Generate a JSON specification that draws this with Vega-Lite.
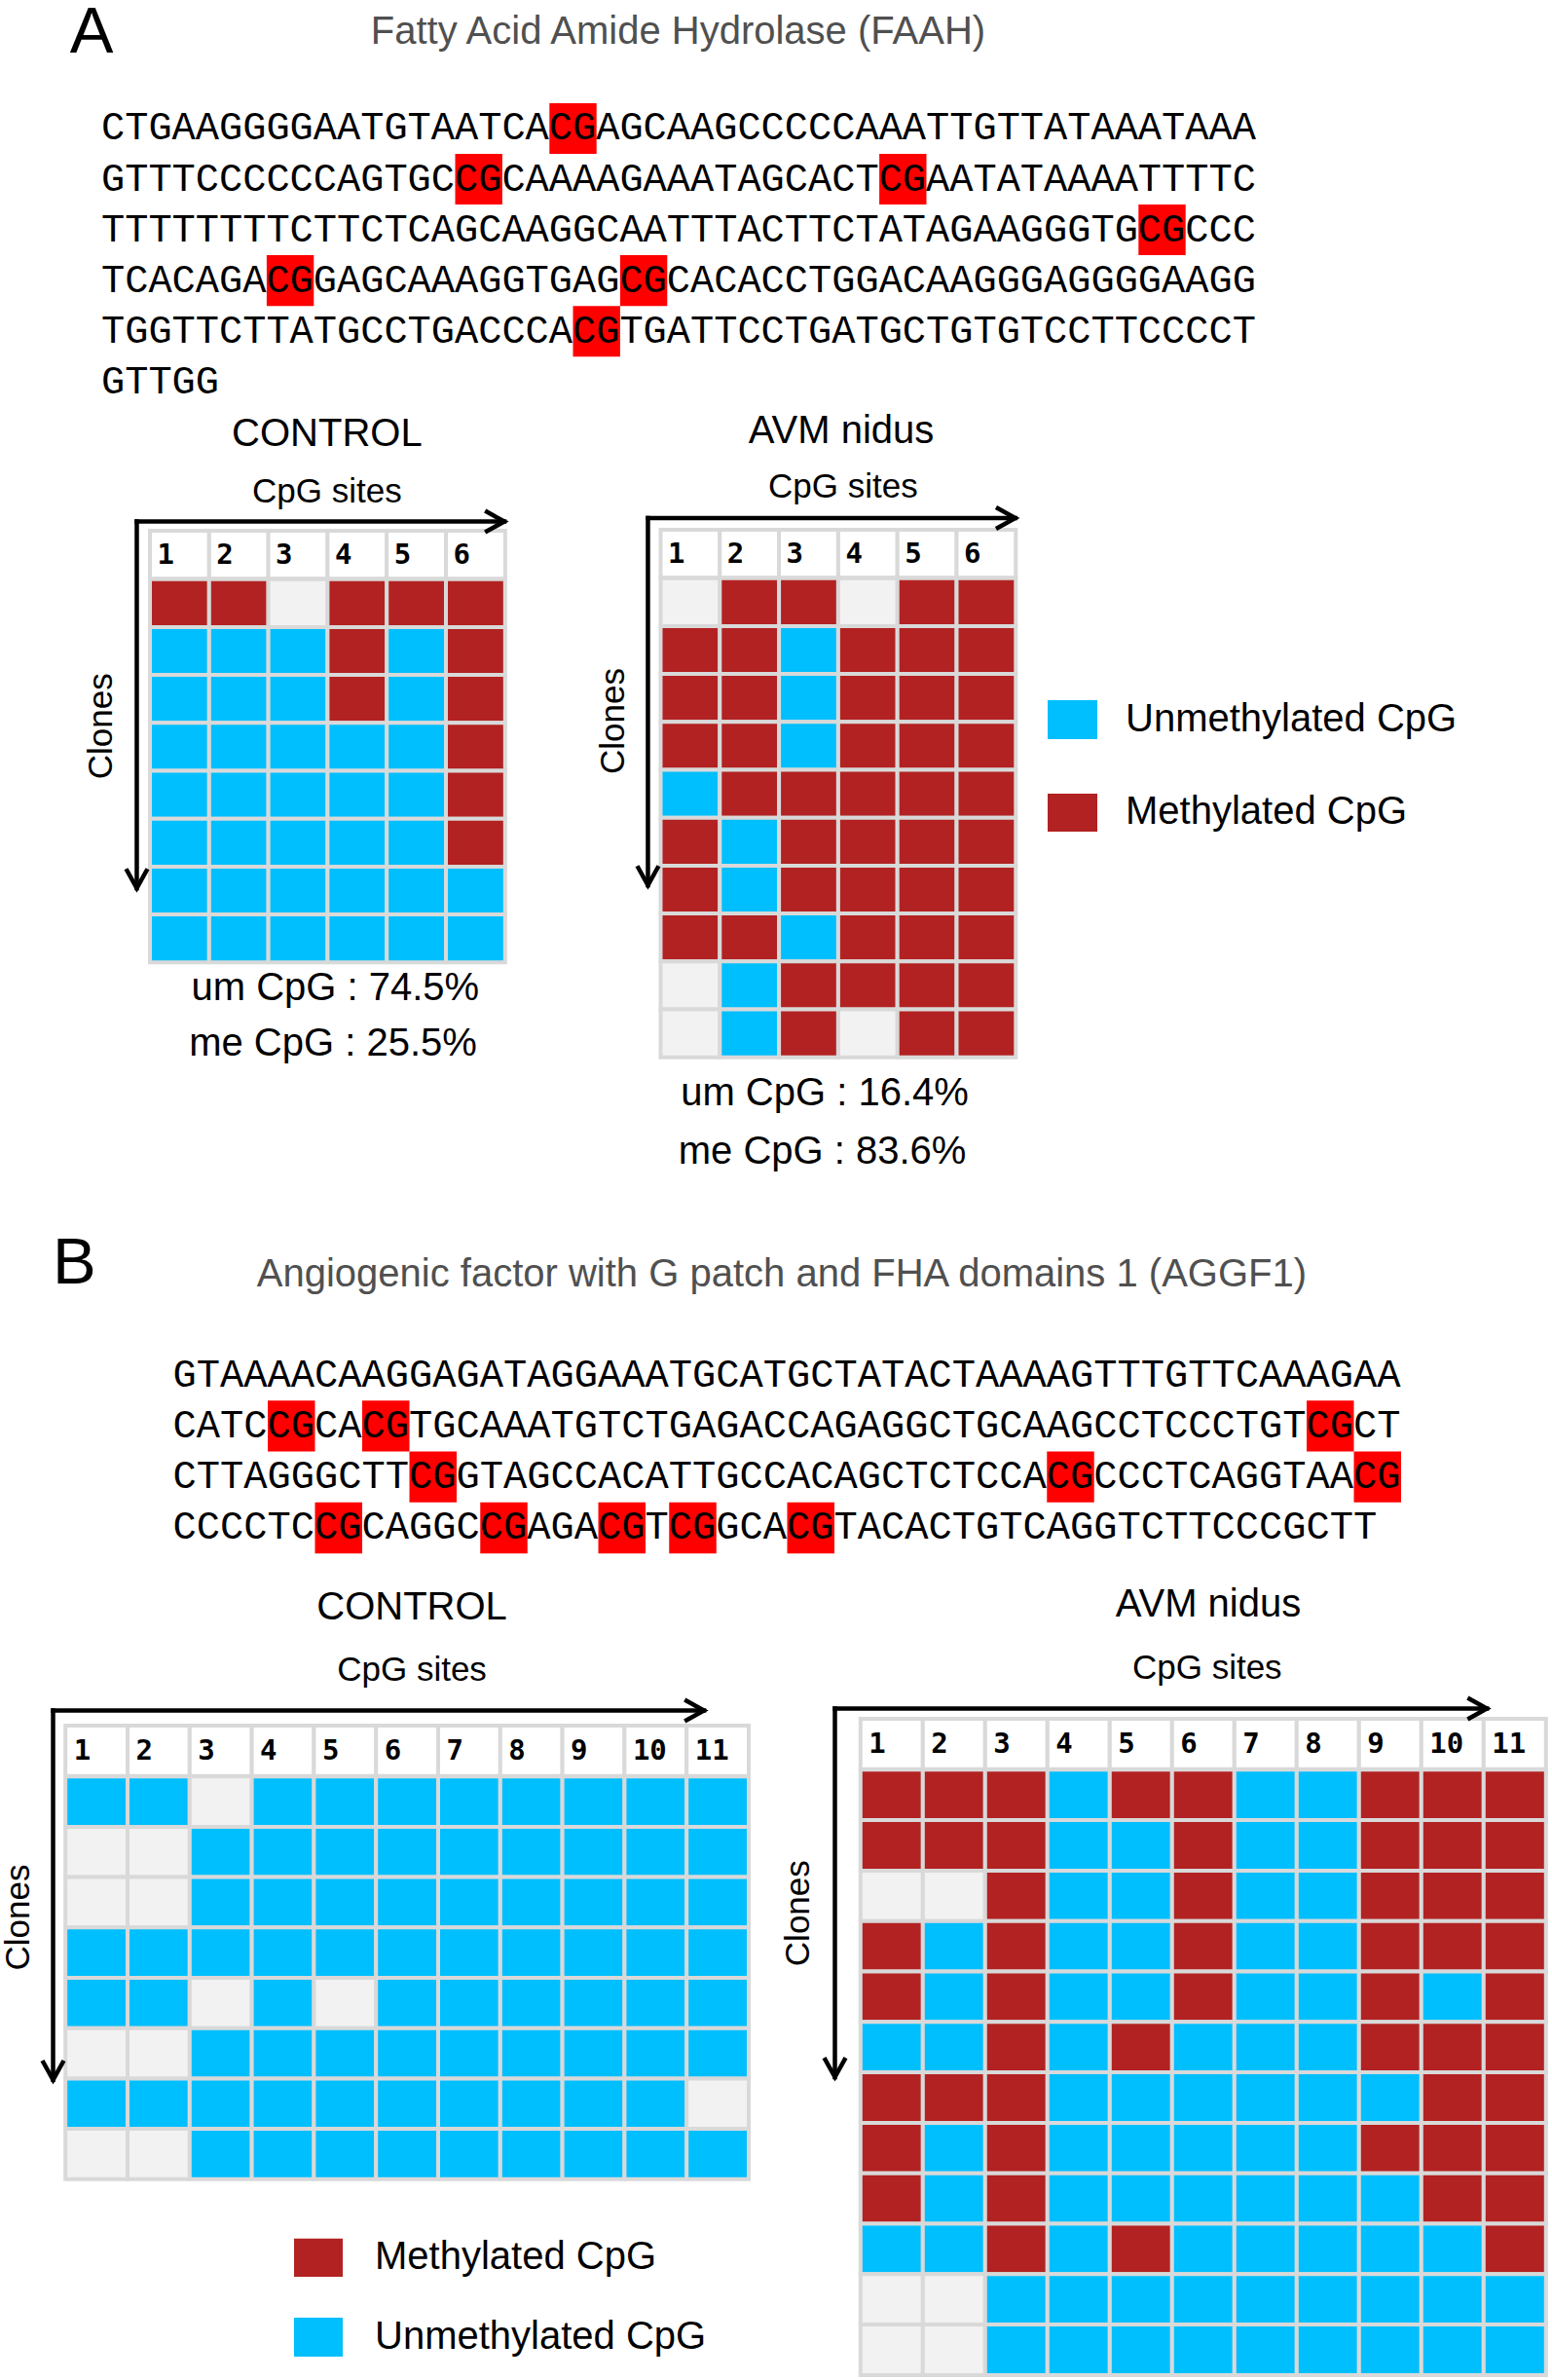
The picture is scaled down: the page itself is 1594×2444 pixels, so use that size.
{
"$schema": "https://vega.github.io/schema/vega-lite/v6.json",
"background": "white",
"padding": 0,
"spacing": 0,
"bounds": "flush",
"config": {"view": {"stroke": null}, "text": {"font": "Liberation Sans", "color": "black"}},
"datasets": {
"seqA": [
{"line":1,"seq":"CTGAAGGGGAATGTAATCACGAGCAAGCCCCCAAATTGTTATAAATAAA"},
{"line":2,"seq":"GTTTCCCCCCAGTGCCGCAAAAGAAATAGCACTCGAATATAAAATTTTC"},
{"line":3,"seq":"TTTTTTTTCTTCTCAGCAAGGCAATTTACTTCTATAGAAGGGTGCGCCC"},
{"line":4,"seq":"TCACAGACGGAGCAAAGGTGAGCGCACACCTGGACAAGGGAGGGGAAGG"},
{"line":5,"seq":"TGGTTCTTATGCCTGACCCACGTGATTCCTGATGCTGTGTCCTTCCCCT"},
{"line":6,"seq":"GTTGG"}],
"cgA": [
{"line":1,"pos":19},{"line":2,"pos":15},{"line":2,"pos":33},{"line":3,"pos":44},
{"line":4,"pos":7},{"line":4,"pos":22},{"line":5,"pos":20}],
"seqB": [
{"line":1,"seq":"GTAAAACAAGGAGATAGGAAATGCATGCTATACTAAAAGTTTGTTCAAAGAA"},
{"line":2,"seq":"CATCCGCACGTGCAAATGTCTGAGACCAGAGGCTGCAAGCCTCCCTGTCGCT"},
{"line":3,"seq":"CTTAGGGCTTCGGTAGCCACATTGCCACAGCTCTCCACGCCCTCAGGTAACG"},
{"line":4,"seq":"CCCCTCCGCAGGCCGAGACGTCGGCACGTACACTGTCAGGTCTTCCCGCTT"}],
"cgB": [
{"line":2,"pos":4},{"line":2,"pos":8},{"line":2,"pos":48},
{"line":3,"pos":10},{"line":3,"pos":37},{"line":3,"pos":50},
{"line":4,"pos":6},{"line":4,"pos":13},{"line":4,"pos":18},{"line":4,"pos":21},{"line":4,"pos":26}],
"sites6": [{"site":1},{"site":2},{"site":3},{"site":4},{"site":5},{"site":6}],
"sites11": [{"site":1},{"site":2},{"site":3},{"site":4},{"site":5},{"site":6},{"site":7},{"site":8},{"site":9},{"site":10},{"site":11}],
"ac": [
{"site":1,"clone":1,"status":"me"},{"site":2,"clone":1,"status":"me"},{"site":3,"clone":1,"status":"na"},{"site":4,"clone":1,"status":"me"},{"site":5,"clone":1,"status":"me"},{"site":6,"clone":1,"status":"me"},
{"site":1,"clone":2,"status":"um"},{"site":2,"clone":2,"status":"um"},{"site":3,"clone":2,"status":"um"},{"site":4,"clone":2,"status":"me"},{"site":5,"clone":2,"status":"um"},{"site":6,"clone":2,"status":"me"},
{"site":1,"clone":3,"status":"um"},{"site":2,"clone":3,"status":"um"},{"site":3,"clone":3,"status":"um"},{"site":4,"clone":3,"status":"me"},{"site":5,"clone":3,"status":"um"},{"site":6,"clone":3,"status":"me"},
{"site":1,"clone":4,"status":"um"},{"site":2,"clone":4,"status":"um"},{"site":3,"clone":4,"status":"um"},{"site":4,"clone":4,"status":"um"},{"site":5,"clone":4,"status":"um"},{"site":6,"clone":4,"status":"me"},
{"site":1,"clone":5,"status":"um"},{"site":2,"clone":5,"status":"um"},{"site":3,"clone":5,"status":"um"},{"site":4,"clone":5,"status":"um"},{"site":5,"clone":5,"status":"um"},{"site":6,"clone":5,"status":"me"},
{"site":1,"clone":6,"status":"um"},{"site":2,"clone":6,"status":"um"},{"site":3,"clone":6,"status":"um"},{"site":4,"clone":6,"status":"um"},{"site":5,"clone":6,"status":"um"},{"site":6,"clone":6,"status":"me"},
{"site":1,"clone":7,"status":"um"},{"site":2,"clone":7,"status":"um"},{"site":3,"clone":7,"status":"um"},{"site":4,"clone":7,"status":"um"},{"site":5,"clone":7,"status":"um"},{"site":6,"clone":7,"status":"um"},
{"site":1,"clone":8,"status":"um"},{"site":2,"clone":8,"status":"um"},{"site":3,"clone":8,"status":"um"},{"site":4,"clone":8,"status":"um"},{"site":5,"clone":8,"status":"um"},{"site":6,"clone":8,"status":"um"}],
"aa": [
{"site":1,"clone":1,"status":"na"},{"site":2,"clone":1,"status":"me"},{"site":3,"clone":1,"status":"me"},{"site":4,"clone":1,"status":"na"},{"site":5,"clone":1,"status":"me"},{"site":6,"clone":1,"status":"me"},
{"site":1,"clone":2,"status":"me"},{"site":2,"clone":2,"status":"me"},{"site":3,"clone":2,"status":"um"},{"site":4,"clone":2,"status":"me"},{"site":5,"clone":2,"status":"me"},{"site":6,"clone":2,"status":"me"},
{"site":1,"clone":3,"status":"me"},{"site":2,"clone":3,"status":"me"},{"site":3,"clone":3,"status":"um"},{"site":4,"clone":3,"status":"me"},{"site":5,"clone":3,"status":"me"},{"site":6,"clone":3,"status":"me"},
{"site":1,"clone":4,"status":"me"},{"site":2,"clone":4,"status":"me"},{"site":3,"clone":4,"status":"um"},{"site":4,"clone":4,"status":"me"},{"site":5,"clone":4,"status":"me"},{"site":6,"clone":4,"status":"me"},
{"site":1,"clone":5,"status":"um"},{"site":2,"clone":5,"status":"me"},{"site":3,"clone":5,"status":"me"},{"site":4,"clone":5,"status":"me"},{"site":5,"clone":5,"status":"me"},{"site":6,"clone":5,"status":"me"},
{"site":1,"clone":6,"status":"me"},{"site":2,"clone":6,"status":"um"},{"site":3,"clone":6,"status":"me"},{"site":4,"clone":6,"status":"me"},{"site":5,"clone":6,"status":"me"},{"site":6,"clone":6,"status":"me"},
{"site":1,"clone":7,"status":"me"},{"site":2,"clone":7,"status":"um"},{"site":3,"clone":7,"status":"me"},{"site":4,"clone":7,"status":"me"},{"site":5,"clone":7,"status":"me"},{"site":6,"clone":7,"status":"me"},
{"site":1,"clone":8,"status":"me"},{"site":2,"clone":8,"status":"me"},{"site":3,"clone":8,"status":"um"},{"site":4,"clone":8,"status":"me"},{"site":5,"clone":8,"status":"me"},{"site":6,"clone":8,"status":"me"},
{"site":1,"clone":9,"status":"na"},{"site":2,"clone":9,"status":"um"},{"site":3,"clone":9,"status":"me"},{"site":4,"clone":9,"status":"me"},{"site":5,"clone":9,"status":"me"},{"site":6,"clone":9,"status":"me"},
{"site":1,"clone":10,"status":"na"},{"site":2,"clone":10,"status":"um"},{"site":3,"clone":10,"status":"me"},{"site":4,"clone":10,"status":"na"},{"site":5,"clone":10,"status":"me"},{"site":6,"clone":10,"status":"me"}],
"bc": [
{"site":1,"clone":1,"status":"um"},{"site":2,"clone":1,"status":"um"},{"site":3,"clone":1,"status":"na"},{"site":4,"clone":1,"status":"um"},{"site":5,"clone":1,"status":"um"},{"site":6,"clone":1,"status":"um"},{"site":7,"clone":1,"status":"um"},{"site":8,"clone":1,"status":"um"},{"site":9,"clone":1,"status":"um"},{"site":10,"clone":1,"status":"um"},{"site":11,"clone":1,"status":"um"},
{"site":1,"clone":2,"status":"na"},{"site":2,"clone":2,"status":"na"},{"site":3,"clone":2,"status":"um"},{"site":4,"clone":2,"status":"um"},{"site":5,"clone":2,"status":"um"},{"site":6,"clone":2,"status":"um"},{"site":7,"clone":2,"status":"um"},{"site":8,"clone":2,"status":"um"},{"site":9,"clone":2,"status":"um"},{"site":10,"clone":2,"status":"um"},{"site":11,"clone":2,"status":"um"},
{"site":1,"clone":3,"status":"na"},{"site":2,"clone":3,"status":"na"},{"site":3,"clone":3,"status":"um"},{"site":4,"clone":3,"status":"um"},{"site":5,"clone":3,"status":"um"},{"site":6,"clone":3,"status":"um"},{"site":7,"clone":3,"status":"um"},{"site":8,"clone":3,"status":"um"},{"site":9,"clone":3,"status":"um"},{"site":10,"clone":3,"status":"um"},{"site":11,"clone":3,"status":"um"},
{"site":1,"clone":4,"status":"um"},{"site":2,"clone":4,"status":"um"},{"site":3,"clone":4,"status":"um"},{"site":4,"clone":4,"status":"um"},{"site":5,"clone":4,"status":"um"},{"site":6,"clone":4,"status":"um"},{"site":7,"clone":4,"status":"um"},{"site":8,"clone":4,"status":"um"},{"site":9,"clone":4,"status":"um"},{"site":10,"clone":4,"status":"um"},{"site":11,"clone":4,"status":"um"},
{"site":1,"clone":5,"status":"um"},{"site":2,"clone":5,"status":"um"},{"site":3,"clone":5,"status":"na"},{"site":4,"clone":5,"status":"um"},{"site":5,"clone":5,"status":"na"},{"site":6,"clone":5,"status":"um"},{"site":7,"clone":5,"status":"um"},{"site":8,"clone":5,"status":"um"},{"site":9,"clone":5,"status":"um"},{"site":10,"clone":5,"status":"um"},{"site":11,"clone":5,"status":"um"},
{"site":1,"clone":6,"status":"na"},{"site":2,"clone":6,"status":"na"},{"site":3,"clone":6,"status":"um"},{"site":4,"clone":6,"status":"um"},{"site":5,"clone":6,"status":"um"},{"site":6,"clone":6,"status":"um"},{"site":7,"clone":6,"status":"um"},{"site":8,"clone":6,"status":"um"},{"site":9,"clone":6,"status":"um"},{"site":10,"clone":6,"status":"um"},{"site":11,"clone":6,"status":"um"},
{"site":1,"clone":7,"status":"um"},{"site":2,"clone":7,"status":"um"},{"site":3,"clone":7,"status":"um"},{"site":4,"clone":7,"status":"um"},{"site":5,"clone":7,"status":"um"},{"site":6,"clone":7,"status":"um"},{"site":7,"clone":7,"status":"um"},{"site":8,"clone":7,"status":"um"},{"site":9,"clone":7,"status":"um"},{"site":10,"clone":7,"status":"um"},{"site":11,"clone":7,"status":"na"},
{"site":1,"clone":8,"status":"na"},{"site":2,"clone":8,"status":"na"},{"site":3,"clone":8,"status":"um"},{"site":4,"clone":8,"status":"um"},{"site":5,"clone":8,"status":"um"},{"site":6,"clone":8,"status":"um"},{"site":7,"clone":8,"status":"um"},{"site":8,"clone":8,"status":"um"},{"site":9,"clone":8,"status":"um"},{"site":10,"clone":8,"status":"um"},{"site":11,"clone":8,"status":"um"}],
"ba": [
{"site":1,"clone":1,"status":"me"},{"site":2,"clone":1,"status":"me"},{"site":3,"clone":1,"status":"me"},{"site":4,"clone":1,"status":"um"},{"site":5,"clone":1,"status":"me"},{"site":6,"clone":1,"status":"me"},{"site":7,"clone":1,"status":"um"},{"site":8,"clone":1,"status":"um"},{"site":9,"clone":1,"status":"me"},{"site":10,"clone":1,"status":"me"},{"site":11,"clone":1,"status":"me"},
{"site":1,"clone":2,"status":"me"},{"site":2,"clone":2,"status":"me"},{"site":3,"clone":2,"status":"me"},{"site":4,"clone":2,"status":"um"},{"site":5,"clone":2,"status":"um"},{"site":6,"clone":2,"status":"me"},{"site":7,"clone":2,"status":"um"},{"site":8,"clone":2,"status":"um"},{"site":9,"clone":2,"status":"me"},{"site":10,"clone":2,"status":"me"},{"site":11,"clone":2,"status":"me"},
{"site":1,"clone":3,"status":"na"},{"site":2,"clone":3,"status":"na"},{"site":3,"clone":3,"status":"me"},{"site":4,"clone":3,"status":"um"},{"site":5,"clone":3,"status":"um"},{"site":6,"clone":3,"status":"me"},{"site":7,"clone":3,"status":"um"},{"site":8,"clone":3,"status":"um"},{"site":9,"clone":3,"status":"me"},{"site":10,"clone":3,"status":"me"},{"site":11,"clone":3,"status":"me"},
{"site":1,"clone":4,"status":"me"},{"site":2,"clone":4,"status":"um"},{"site":3,"clone":4,"status":"me"},{"site":4,"clone":4,"status":"um"},{"site":5,"clone":4,"status":"um"},{"site":6,"clone":4,"status":"me"},{"site":7,"clone":4,"status":"um"},{"site":8,"clone":4,"status":"um"},{"site":9,"clone":4,"status":"me"},{"site":10,"clone":4,"status":"me"},{"site":11,"clone":4,"status":"me"},
{"site":1,"clone":5,"status":"me"},{"site":2,"clone":5,"status":"um"},{"site":3,"clone":5,"status":"me"},{"site":4,"clone":5,"status":"um"},{"site":5,"clone":5,"status":"um"},{"site":6,"clone":5,"status":"me"},{"site":7,"clone":5,"status":"um"},{"site":8,"clone":5,"status":"um"},{"site":9,"clone":5,"status":"me"},{"site":10,"clone":5,"status":"um"},{"site":11,"clone":5,"status":"me"},
{"site":1,"clone":6,"status":"um"},{"site":2,"clone":6,"status":"um"},{"site":3,"clone":6,"status":"me"},{"site":4,"clone":6,"status":"um"},{"site":5,"clone":6,"status":"me"},{"site":6,"clone":6,"status":"um"},{"site":7,"clone":6,"status":"um"},{"site":8,"clone":6,"status":"um"},{"site":9,"clone":6,"status":"me"},{"site":10,"clone":6,"status":"me"},{"site":11,"clone":6,"status":"me"},
{"site":1,"clone":7,"status":"me"},{"site":2,"clone":7,"status":"me"},{"site":3,"clone":7,"status":"me"},{"site":4,"clone":7,"status":"um"},{"site":5,"clone":7,"status":"um"},{"site":6,"clone":7,"status":"um"},{"site":7,"clone":7,"status":"um"},{"site":8,"clone":7,"status":"um"},{"site":9,"clone":7,"status":"um"},{"site":10,"clone":7,"status":"me"},{"site":11,"clone":7,"status":"me"},
{"site":1,"clone":8,"status":"me"},{"site":2,"clone":8,"status":"um"},{"site":3,"clone":8,"status":"me"},{"site":4,"clone":8,"status":"um"},{"site":5,"clone":8,"status":"um"},{"site":6,"clone":8,"status":"um"},{"site":7,"clone":8,"status":"um"},{"site":8,"clone":8,"status":"um"},{"site":9,"clone":8,"status":"me"},{"site":10,"clone":8,"status":"me"},{"site":11,"clone":8,"status":"me"},
{"site":1,"clone":9,"status":"me"},{"site":2,"clone":9,"status":"um"},{"site":3,"clone":9,"status":"me"},{"site":4,"clone":9,"status":"um"},{"site":5,"clone":9,"status":"um"},{"site":6,"clone":9,"status":"um"},{"site":7,"clone":9,"status":"um"},{"site":8,"clone":9,"status":"um"},{"site":9,"clone":9,"status":"um"},{"site":10,"clone":9,"status":"me"},{"site":11,"clone":9,"status":"me"},
{"site":1,"clone":10,"status":"um"},{"site":2,"clone":10,"status":"um"},{"site":3,"clone":10,"status":"me"},{"site":4,"clone":10,"status":"um"},{"site":5,"clone":10,"status":"me"},{"site":6,"clone":10,"status":"um"},{"site":7,"clone":10,"status":"um"},{"site":8,"clone":10,"status":"um"},{"site":9,"clone":10,"status":"um"},{"site":10,"clone":10,"status":"um"},{"site":11,"clone":10,"status":"me"},
{"site":1,"clone":11,"status":"na"},{"site":2,"clone":11,"status":"na"},{"site":3,"clone":11,"status":"um"},{"site":4,"clone":11,"status":"um"},{"site":5,"clone":11,"status":"um"},{"site":6,"clone":11,"status":"um"},{"site":7,"clone":11,"status":"um"},{"site":8,"clone":11,"status":"um"},{"site":9,"clone":11,"status":"um"},{"site":10,"clone":11,"status":"um"},{"site":11,"clone":11,"status":"um"},
{"site":1,"clone":12,"status":"na"},{"site":2,"clone":12,"status":"na"},{"site":3,"clone":12,"status":"um"},{"site":4,"clone":12,"status":"um"},{"site":5,"clone":12,"status":"um"},{"site":6,"clone":12,"status":"um"},{"site":7,"clone":12,"status":"um"},{"site":8,"clone":12,"status":"um"},{"site":9,"clone":12,"status":"um"},{"site":10,"clone":12,"status":"um"},{"site":11,"clone":12,"status":"um"}]
},
"vconcat": [
{
"width": 1594, "height": 430,
"layer": [
{"data": {"name": "cgA"}, "mark": {"type": "rect", "fill": "#FF0000"},
 "encoding": {
  "x": {"field": "pos", "type": "quantitative", "bin": {"binned": true, "step": 2}, "scale": {"domain": [-4.2975, 61.57], "nice": false, "zero": false}, "axis": null},
  "y": {"field": "line", "type": "quantitative", "bin": {"binned": true, "step": 1}, "scale": {"domain": [-1.0269, 7.236], "nice": false, "zero": false, "reverse": true}, "axis": null}}},
{"data": {"name": "seqA"}, "mark": {"type": "text", "align": "left", "baseline": "middle", "dy": 26.02, "font": "Liberation Mono", "fontSize": 40.33, "color": "black"},
 "encoding": {"x": {"datum": 0}, "y": {"field": "line", "type": "quantitative"}, "text": {"field": "seq"}}},
{"data": {"values": [{}]}, "mark": {"type": "text", "text": "A", "fontSize": 67, "align": "center", "baseline": "alphabetic"},
 "encoding": {"x": {"datum": -0.413}, "y": {"datum": 0.0108}}},
{"data": {"values": [{}]}, "mark": {"type": "text", "text": "Fatty Acid Amide Hydrolase (FAAH)", "fontSize": 40, "color": "#505050", "align": "center", "baseline": "middle"},
 "encoding": {"x": {"datum": 24.48}, "y": {"datum": -0.3928}}}
]
},
{
"width": 1594, "height": 800,
"resolve": {"scale": {"x": "independent", "y": "independent"}},
"layer": [
{"layer": [
{"data": {"name": "sites6"}, "mark": {"type": "rect", "fill": "white", "stroke": "#d9d9d9", "strokeWidth": 4},
 "encoding": {
  "x": {"field": "site", "type": "quantitative", "bin": {"binned": true, "step": 1}, "scale": {"domain": [-1.5247, 24.6924], "nice": false, "zero": false}, "axis": null},
  "y": {"datum": 0, "type": "quantitative", "scale": {"domain": [-2.3374, 13.9228], "nice": false, "zero": false, "reverse": true}, "axis": null},
  "y2": {"datum": 1}}},
{"data": {"name": "ac"}, "mark": {"type": "rect", "stroke": "#d9d9d9", "strokeWidth": 4},
 "encoding": {
  "x": {"field": "site", "type": "quantitative", "bin": {"binned": true, "step": 1}},
  "y": {"field": "clone", "type": "quantitative", "bin": {"binned": true, "step": 1}},
  "fill": {"field": "status", "type": "nominal", "scale": {"domain": ["me", "um", "na"], "range": ["#B22222", "#00BFFF", "#F2F2F2"]}, "legend": null}}},
{"data": {"name": "sites6"}, "mark": {"type": "text", "align": "left", "baseline": "middle", "dx": 8, "font": "DejaVu Sans Mono", "fontWeight": "bold", "fontSize": 29},
 "encoding": {"x": {"field": "site", "type": "quantitative"}, "y": {"datum": 0.5}, "text": {"field": "site"}}},
{"data": {"values": [{}]}, "mark": {"type": "text", "text": "CONTROL", "fontSize": 40, "align": "center", "baseline": "middle"},
 "encoding": {"x": {"datum": 4.0}, "y": {"datum": -2.022}}},
{"data": {"values": [{}]}, "mark": {"type": "text", "text": "CpG sites", "fontSize": 35, "align": "center", "baseline": "middle"},
 "encoding": {"x": {"datum": 4.0}, "y": {"datum": -0.81}}},
{"data": {"values": [{}]}, "mark": {"type": "text", "text": "Clones", "fontSize": 35, "align": "center", "baseline": "middle", "angle": 270},
 "encoding": {"x": {"datum": 0.178}, "y": {"datum": 4.08}}},
{"data": {"values": [{}]}, "mark": {"type": "text", "text": "um CpG : 74.5%", "fontSize": 40, "align": "center", "baseline": "middle"},
 "encoding": {"x": {"datum": 4.138}, "y": {"datum": 9.553}}},
{"data": {"values": [{}]}, "mark": {"type": "text", "text": "me CpG : 25.5%", "fontSize": 40, "align": "center", "baseline": "middle"},
 "encoding": {"x": {"datum": 4.1}, "y": {"datum": 10.71}}},
{"data": {"values": [{}]}, "mark": {"type": "rule", "strokeWidth": 4.5, "color": "black", "strokeCap": "square"},
 "encoding": {"x": {"datum": 0.786}, "x2": {"datum": 6.995}, "y": {"datum": -0.193}}},
{"data": {"values": [{}]}, "mark": {"type": "rule", "strokeWidth": 4.5, "color": "black", "strokeCap": "square"},
 "encoding": {"x": {"datum": 0.786}, "y": {"datum": -0.193}, "y2": {"datum": 7.46}}},
{"data": {"values": [{}]}, "mark": {"type": "point", "shape": "M-1.8,-1L0,0L-1.8,1", "filled": false, "size": 484, "strokeWidth": 4.5, "color": "black", "opacity": 1},
 "encoding": {"x": {"datum": 6.995}, "y": {"datum": -0.193}}},
{"data": {"values": [{}]}, "mark": {"type": "point", "shape": "M-1,-1.8L0,0L1,-1.8", "filled": false, "size": 484, "strokeWidth": 4.5, "color": "black", "opacity": 1},
 "encoding": {"x": {"datum": 0.786}, "y": {"datum": 7.46}}}
]},
{"layer": [
{"data": {"name": "sites6"}, "mark": {"type": "rect", "fill": "white", "stroke": "#d9d9d9", "strokeWidth": 4},
 "encoding": {
  "x": {"field": "site", "type": "quantitative", "bin": {"binned": true, "step": 1}, "scale": {"domain": [-10.1513, 16.0658], "nice": false, "zero": false}, "axis": null},
  "y": {"datum": 0, "type": "quantitative", "scale": {"domain": [-2.3171, 13.9431], "nice": false, "zero": false, "reverse": true}, "axis": null},
  "y2": {"datum": 1}}},
{"data": {"name": "aa"}, "mark": {"type": "rect", "stroke": "#d9d9d9", "strokeWidth": 4},
 "encoding": {
  "x": {"field": "site", "type": "quantitative", "bin": {"binned": true, "step": 1}},
  "y": {"field": "clone", "type": "quantitative", "bin": {"binned": true, "step": 1}},
  "fill": {"field": "status", "type": "nominal", "scale": {"domain": ["me", "um", "na"], "range": ["#B22222", "#00BFFF", "#F2F2F2"]}, "legend": null}}},
{"data": {"name": "sites6"}, "mark": {"type": "text", "align": "left", "baseline": "middle", "dx": 8, "font": "DejaVu Sans Mono", "fontWeight": "bold", "fontSize": 29},
 "encoding": {"x": {"field": "site", "type": "quantitative"}, "y": {"datum": 0.5}, "text": {"field": "site"}}},
{"data": {"values": [{}]}, "mark": {"type": "text", "text": "AVM nidus", "fontSize": 40, "align": "center", "baseline": "middle"},
 "encoding": {"x": {"datum": 4.06}, "y": {"datum": -2.063}}},
{"data": {"values": [{}]}, "mark": {"type": "text", "text": "CpG sites", "fontSize": 35, "align": "center", "baseline": "middle"},
 "encoding": {"x": {"datum": 4.09}, "y": {"datum": -0.894}}},
{"data": {"values": [{}]}, "mark": {"type": "text", "text": "Clones", "fontSize": 35, "align": "center", "baseline": "middle", "angle": 270},
 "encoding": {"x": {"datum": 0.211}, "y": {"datum": 3.994}}},
{"data": {"values": [{}]}, "mark": {"type": "text", "text": "um CpG : 16.4%", "fontSize": 40, "align": "center", "baseline": "middle"},
 "encoding": {"x": {"datum": 3.78}, "y": {"datum": 11.77}}},
{"data": {"values": [{}]}, "mark": {"type": "text", "text": "me CpG : 83.6%", "fontSize": 40, "align": "center", "baseline": "middle"},
 "encoding": {"x": {"datum": 3.74}, "y": {"datum": 12.98}}},
{"data": {"values": [{}]}, "mark": {"type": "rule", "strokeWidth": 4.5, "color": "black", "strokeCap": "square"},
 "encoding": {"x": {"datum": 0.794}, "x2": {"datum": 7.0}, "y": {"datum": -0.244}}},
{"data": {"values": [{}]}, "mark": {"type": "rule", "strokeWidth": 4.5, "color": "black", "strokeCap": "square"},
 "encoding": {"x": {"datum": 0.794}, "y": {"datum": -0.244}, "y2": {"datum": 7.42}}},
{"data": {"values": [{}]}, "mark": {"type": "point", "shape": "M-1.8,-1L0,0L-1.8,1", "filled": false, "size": 484, "strokeWidth": 4.5, "color": "black", "opacity": 1},
 "encoding": {"x": {"datum": 7.0}, "y": {"datum": -0.244}}},
{"data": {"values": [{}]}, "mark": {"type": "point", "shape": "M-1,-1.8L0,0L1,-1.8", "filled": false, "size": 484, "strokeWidth": 4.5, "color": "black", "opacity": 1},
 "encoding": {"x": {"datum": 0.794}, "y": {"datum": 7.42}}},
{"data": {"values": [{}]}, "mark": {"type": "rect"},
 "encoding": {"x": {"datum": 7.546}, "x2": {"datum": 8.385}, "y": {"datum": 3.557}, "y2": {"datum": 4.37}, "fill": {"datum": "um", "type": "nominal", "legend": null}}},
{"data": {"values": [{}]}, "mark": {"type": "rect"},
 "encoding": {"x": {"datum": 7.546}, "x2": {"datum": 8.385}, "y": {"datum": 5.508}, "y2": {"datum": 6.301}, "fill": {"datum": "me", "type": "nominal", "legend": null}}},
{"data": {"values": [{}]}, "mark": {"type": "text", "text": "Unmethylated CpG", "fontSize": 40, "align": "left", "baseline": "middle"},
 "encoding": {"x": {"datum": 8.862}, "y": {"datum": 3.963}}},
{"data": {"values": [{}]}, "mark": {"type": "text", "text": "Methylated CpG", "fontSize": 40, "align": "left", "baseline": "middle"},
 "encoding": {"x": {"datum": 8.862}, "y": {"datum": 5.904}}}
]}
]
},
{
"width": 1594, "height": 390,
"layer": [
{"data": {"name": "cgB"}, "mark": {"type": "rect", "fill": "#FF0000"},
 "encoding": {
  "x": {"field": "pos", "type": "quantitative", "bin": {"binned": true, "step": 2}, "scale": {"domain": [-7.3196, 58.412], "nice": false, "zero": false}, "axis": null},
  "y": {"field": "line", "type": "quantitative", "bin": {"binned": true, "step": 1}, "scale": {"domain": [-1.9683, 5.4844], "nice": false, "zero": false, "reverse": true}, "axis": null}}},
{"data": {"name": "seqB"}, "mark": {"type": "text", "align": "left", "baseline": "middle", "dy": 26.17, "font": "Liberation Mono", "fontSize": 40.42, "color": "black"},
 "encoding": {"x": {"datum": 0}, "y": {"field": "line", "type": "quantitative"}, "text": {"field": "seq"}}},
{"data": {"values": [{}]}, "mark": {"type": "text", "text": "B", "fontSize": 67, "align": "center", "baseline": "middle"},
 "encoding": {"x": {"datum": -4.173}, "y": {"datum": -0.6784}}},
{"data": {"values": [{}]}, "mark": {"type": "text", "text": "Angiogenic factor with G patch and FHA domains 1 (AGGF1)", "fontSize": 40, "color": "#505050", "align": "center", "baseline": "middle"},
 "encoding": {"x": {"datum": 25.79}, "y": {"datum": -0.4586}}}
]
},
{
"width": 1594, "height": 824,
"resolve": {"scale": {"x": "independent", "y": "independent"}},
"layer": [
{"layer": [
{"data": {"name": "sites11"}, "mark": {"type": "rect", "fill": "white", "stroke": "#d9d9d9", "strokeWidth": 4},
 "encoding": {
  "x": {"field": "site", "type": "quantitative", "bin": {"binned": true, "step": 1}, "scale": {"domain": [-0.0455, 24.9389], "nice": false, "zero": false}, "axis": null},
  "y": {"datum": 0, "type": "quantitative", "scale": {"domain": [-2.94, 12.998], "nice": false, "zero": false, "reverse": true}, "axis": null},
  "y2": {"datum": 1}}},
{"data": {"name": "bc"}, "mark": {"type": "rect", "stroke": "#d9d9d9", "strokeWidth": 4},
 "encoding": {
  "x": {"field": "site", "type": "quantitative", "bin": {"binned": true, "step": 1}},
  "y": {"field": "clone", "type": "quantitative", "bin": {"binned": true, "step": 1}},
  "fill": {"field": "status", "type": "nominal", "scale": {"domain": ["me", "um", "na"], "range": ["#B22222", "#00BFFF", "#F2F2F2"]}, "legend": null}}},
{"data": {"name": "sites11"}, "mark": {"type": "text", "align": "left", "baseline": "middle", "dx": 9, "font": "DejaVu Sans Mono", "fontWeight": "bold", "fontSize": 29},
 "encoding": {"x": {"field": "site", "type": "quantitative"}, "y": {"datum": 0.5}, "text": {"field": "site"}}},
{"data": {"values": [{}]}, "mark": {"type": "text", "text": "CONTROL", "fontSize": 40, "align": "center", "baseline": "middle"},
 "encoding": {"x": {"datum": 6.585}, "y": {"datum": -2.35}}},
{"data": {"values": [{}]}, "mark": {"type": "text", "text": "CpG sites", "fontSize": 35, "align": "center", "baseline": "middle"},
 "encoding": {"x": {"datum": 6.585}, "y": {"datum": -1.1}}},
{"data": {"values": [{}]}, "mark": {"type": "text", "text": "Clones", "fontSize": 35, "align": "center", "baseline": "middle", "angle": 270},
 "encoding": {"x": {"datum": 0.2524}, "y": {"datum": 3.81}}},
{"data": {"values": [{}]}, "mark": {"type": "rule", "strokeWidth": 4.5, "color": "black", "strokeCap": "square"},
 "encoding": {"x": {"datum": 0.809}, "x2": {"datum": 11.287}, "y": {"datum": -0.3}}},
{"data": {"values": [{}]}, "mark": {"type": "rule", "strokeWidth": 4.5, "color": "black", "strokeCap": "square"},
 "encoding": {"x": {"datum": 0.809}, "y": {"datum": -0.3}, "y2": {"datum": 7.037}}},
{"data": {"values": [{}]}, "mark": {"type": "point", "shape": "M-1.8,-1L0,0L-1.8,1", "filled": false, "size": 484, "strokeWidth": 4.5, "color": "black", "opacity": 1},
 "encoding": {"x": {"datum": 11.287}, "y": {"datum": -0.3}}},
{"data": {"values": [{}]}, "mark": {"type": "point", "shape": "M-1,-1.8L0,0L1,-1.8", "filled": false, "size": 484, "strokeWidth": 4.5, "color": "black", "opacity": 1},
 "encoding": {"x": {"datum": 0.809}, "y": {"datum": 7.037}}},
{"data": {"values": [{}]}, "mark": {"type": "rect"},
 "encoding": {"x": {"datum": 4.688}, "x2": {"datum": 5.472}, "y": {"datum": 10.19}, "y2": {"datum": 10.948}, "fill": {"datum": "me", "type": "nominal", "legend": null}}},
{"data": {"values": [{}]}, "mark": {"type": "rect"},
 "encoding": {"x": {"datum": 4.688}, "x2": {"datum": 5.472}, "y": {"datum": 11.76}, "y2": {"datum": 12.534}, "fill": {"datum": "um", "type": "nominal", "legend": null}}},
{"data": {"values": [{}]}, "mark": {"type": "text", "text": "Methylated CpG", "fontSize": 40, "align": "left", "baseline": "middle"},
 "encoding": {"x": {"datum": 5.989}, "y": {"datum": 10.57}}},
{"data": {"values": [{}]}, "mark": {"type": "text", "text": "Unmethylated CpG", "fontSize": 40, "align": "left", "baseline": "middle"},
 "encoding": {"x": {"datum": 5.989}, "y": {"datum": 12.147}}}
]},
{"layer": [
{"data": {"name": "sites11"}, "mark": {"type": "rect", "fill": "white", "stroke": "#d9d9d9", "strokeWidth": 4},
 "encoding": {
  "x": {"field": "site", "type": "quantitative", "bin": {"binned": true, "step": 1}, "scale": {"domain": [-12.8016, 12.1047], "nice": false, "zero": false}, "axis": null},
  "y": {"datum": 0, "type": "quantitative", "scale": {"domain": [-2.7992, 13.108], "nice": false, "zero": false, "reverse": true}, "axis": null},
  "y2": {"datum": 1}}},
{"data": {"name": "ba"}, "mark": {"type": "rect", "stroke": "#d9d9d9", "strokeWidth": 4},
 "encoding": {
  "x": {"field": "site", "type": "quantitative", "bin": {"binned": true, "step": 1}},
  "y": {"field": "clone", "type": "quantitative", "bin": {"binned": true, "step": 1}},
  "fill": {"field": "status", "type": "nominal", "scale": {"domain": ["me", "um", "na"], "range": ["#B22222", "#00BFFF", "#F2F2F2"]}, "legend": null}}},
{"data": {"name": "sites11"}, "mark": {"type": "text", "align": "left", "baseline": "middle", "dx": 9, "font": "DejaVu Sans Mono", "fontWeight": "bold", "fontSize": 29},
 "encoding": {"x": {"field": "site", "type": "quantitative"}, "y": {"datum": 0.5}, "text": {"field": "site"}}},
{"data": {"values": [{}]}, "mark": {"type": "text", "text": "AVM nidus", "fontSize": 40, "align": "center", "baseline": "middle"},
 "encoding": {"x": {"datum": 6.589}, "y": {"datum": -2.264}}},
{"data": {"values": [{}]}, "mark": {"type": "text", "text": "CpG sites", "fontSize": 35, "align": "center", "baseline": "middle"},
 "encoding": {"x": {"datum": 6.57}, "y": {"datum": -1.004}}},
{"data": {"values": [{}]}, "mark": {"type": "text", "text": "Clones", "fontSize": 35, "align": "center", "baseline": "middle", "angle": 270},
 "encoding": {"x": {"datum": 0.0047}, "y": {"datum": 3.855}}},
{"data": {"values": [{}]}, "mark": {"type": "rule", "strokeWidth": 4.5, "color": "black", "strokeCap": "square"},
 "encoding": {"x": {"datum": 0.597}, "x2": {"datum": 11.06}, "y": {"datum": -0.203}}},
{"data": {"values": [{}]}, "mark": {"type": "rule", "strokeWidth": 4.5, "color": "black", "strokeCap": "square"},
 "encoding": {"x": {"datum": 0.597}, "y": {"datum": -0.203}, "y2": {"datum": 7.104}}},
{"data": {"values": [{}]}, "mark": {"type": "point", "shape": "M-1.8,-1L0,0L-1.8,1", "filled": false, "size": 484, "strokeWidth": 4.5, "color": "black", "opacity": 1},
 "encoding": {"x": {"datum": 11.06}, "y": {"datum": -0.203}}},
{"data": {"values": [{}]}, "mark": {"type": "point", "shape": "M-1,-1.8L0,0L1,-1.8", "filled": false, "size": 484, "strokeWidth": 4.5, "color": "black", "opacity": 1},
 "encoding": {"x": {"datum": 0.597}, "y": {"datum": 7.104}}}
]}
]
}
]
}
